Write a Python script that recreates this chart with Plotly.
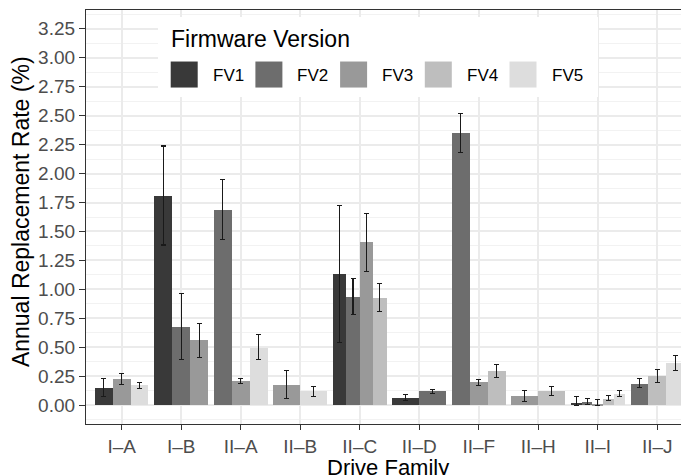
import plotly.graph_objects as go

families = ["I–A", "I–B", "II–A", "II–B", "II–C", "II–D", "II–F", "II–H", "II–I", "II–J"]
versions = ["FV1", "FV2", "FV3", "FV4", "FV5"]
colors = ["#393939", "#6d6d6d", "#999999", "#bebebe", "#dddddd"]

# values per version over families (None = not present)
fv1 = [0.147, 1.806, None, None, 1.130, 0.066, None, None, 0.020, None]
fv2 = [None, 0.677, 1.685, None, 0.936, 0.121, 2.348, None, 0.026, 0.187]
fv3 = [0.225, 0.559, 0.207, 0.176, 1.406, None, 0.196, 0.081, 0.011, None]
fv4 = [None, None, None, None, 0.925, None, 0.294, 0.121, 0.055, 0.251]
fv5 = [0.173, None, 0.498, 0.124, None, None, None, None, 0.095, 0.360]

fv1_lo = [0.072, 1.383, None, None, 0.540, 0.043, None, None, 0.000, None]
fv1_hi = [0.230, 2.238, None, None, 1.722, 0.092, None, None, 0.072, None]
fv2_lo = [None, 0.397, 1.429, None, 0.784, 0.104, 2.180, None, 0.006, 0.153]
fv2_hi = [None, 0.962, 1.947, None, 1.094, 0.133, 2.515, None, 0.058, 0.233]
fv3_lo = [0.180, 0.409, 0.187, 0.055, 1.158, None, 0.170, 0.035, 0.000, None]
fv3_hi = [0.270, 0.709, 0.230, 0.300, 1.654, None, 0.222, 0.130, 0.046, None]
fv4_lo = [None, None, None, None, 0.807, None, 0.239, 0.084, 0.037, 0.199]
fv4_hi = [None, None, None, None, 1.049, None, 0.352, 0.164, 0.080, 0.308]
fv5_lo = [0.147, None, 0.395, 0.078, None, None, None, None, 0.078, 0.300]
fv5_hi = [0.193, None, 0.614, 0.164, None, None, None, None, 0.124, 0.426]

values = [fv1, fv2, fv3, fv4, fv5]
lows = [fv1_lo, fv2_lo, fv3_lo, fv4_lo, fv5_lo]
highs = [fv1_hi, fv2_hi, fv3_hi, fv4_hi, fv5_hi]

y_ticks = [0.0, 0.25, 0.5, 0.75, 1.0, 1.25, 1.5, 1.75, 2.0, 2.25, 2.5, 2.75, 3.0, 3.25]

# the page body has an 8px margin, so the figure is drawn 8px in from the corner
OFF = 8
W, H = 689 - OFF, 475 - OFF
# panel edges in page pixels
P_L, P_R, P_T, P_B = 86, 689, 10, 423.8
ML, MR, MT, MB = P_L - OFF, 689 - P_R, P_T - OFF, 475 - P_B
FONT = "Liberation Sans, Arial, sans-serif"
DODGE = 0.9

fig = go.Figure()

# ggplot-style dodge: only versions present in a family share the slot width
for vi, v in enumerate(versions):
    xs, ys, ws, ep, em = [], [], [], [], []
    for fi in range(len(families)):
        val = values[vi][fi]
        if val is None:
            continue
        present = [k for k in range(len(versions)) if values[k][fi] is not None]
        n = len(present)
        pos = present.index(vi)
        w = DODGE / n
        xs.append(fi - DODGE / 2 + w * (pos + 0.5))
        ys.append(val)
        ws.append(w)
        ep.append(highs[vi][fi] - val)
        em.append(val - lows[vi][fi])
    fig.add_trace(go.Bar(
        x=xs, y=ys, width=ws, name=v,
        marker=dict(color=colors[vi], line=dict(width=0)),
        error_y=dict(type="data", symmetric=False, array=ep, arrayminus=em,
                     color="#1a1a1a", thickness=1.1, width=2.5),
        showlegend=False,
    ))

# page-pixel -> paper coordinate helpers
def px(x):
    return (x - P_L) / (P_R - P_L)
def py(y):
    return (P_B - y) / (P_B - P_T)

shapes = [dict(type="rect", xref="paper", yref="paper",
               x0=px(158), x1=px(598), y0=py(97), y1=py(17),
               fillcolor="white", line=dict(width=0), layer="above")]
annotations = [
    dict(text="Firmware Version", xref="paper", yref="paper",
         x=px(169), y=py(39), xanchor="left", yanchor="middle",
         showarrow=False, font=dict(size=23, color="black", family=FONT)),
    dict(text="Drive Family", xref="paper", yref="paper",
         x=px(388), y=py(467), xanchor="center", yanchor="middle",
         showarrow=False, font=dict(size=22, color="black", family=FONT)),
    dict(text="Annual Replacement Rate (%)", xref="paper", yref="paper",
         x=px(21), y=py(212), xanchor="center", yanchor="middle", textangle=-90,
         showarrow=False, font=dict(size=23, color="black", family=FONT)),
]
for i, v in enumerate(versions):
    x0 = 170.7 + 84.7 * i
    shapes.append(dict(type="rect", xref="paper", yref="paper",
                       x0=px(x0), x1=px(x0 + 27), y0=py(87.5), y1=py(61.5),
                       fillcolor=colors[i], line=dict(width=0), layer="above"))
    annotations.append(dict(text=v, xref="paper", yref="paper",
                            x=px(x0 + 40), y=py(75), xanchor="left", yanchor="middle",
                            showarrow=False, font=dict(size=17, color="black", family=FONT)))

fig.update_layout(
    width=W, height=H,
    margin=dict(l=ML, r=MR, t=MT, b=MB, pad=0),
    paper_bgcolor="white", plot_bgcolor="white",
    font=dict(family=FONT),
    barmode="overlay",
    bargap=0,
    shapes=shapes,
    annotations=annotations,
    xaxis=dict(
        automargin=False,
        range=[-0.6, 9.533],
        tickmode="array", tickvals=list(range(len(families))), ticktext=families,
        tickfont=dict(size=19, color="#4d4d4d"),
        ticks="outside", ticklen=5, tickwidth=1.2, tickcolor="#333333",
        showgrid=True, gridcolor="#ebebeb", gridwidth=1.5,
        showline=True, linecolor="#333333", linewidth=1.2, mirror=True,
        zeroline=False,
    ),
    yaxis=dict(
        automargin=False,
        range=[-0.1625, 3.4125],
        tickmode="array", tickvals=y_ticks, ticktext=[f"{t:.2f}" for t in y_ticks],
        tickfont=dict(size=19, color="#4d4d4d"),
        ticks="outside", ticklen=6, tickwidth=1.2, tickcolor="#333333",
        showgrid=True, gridcolor="#ebebeb", gridwidth=1.5,
        minor=dict(tickmode="linear", tick0=0.125, dtick=0.25, showgrid=True,
                   gridcolor="#f2f2f2", gridwidth=0.8, ticks=""),
        showline=True, linecolor="#333333", linewidth=1.2, mirror=True,
        zeroline=False,
    ),
)

fig.write_html("out.html")
